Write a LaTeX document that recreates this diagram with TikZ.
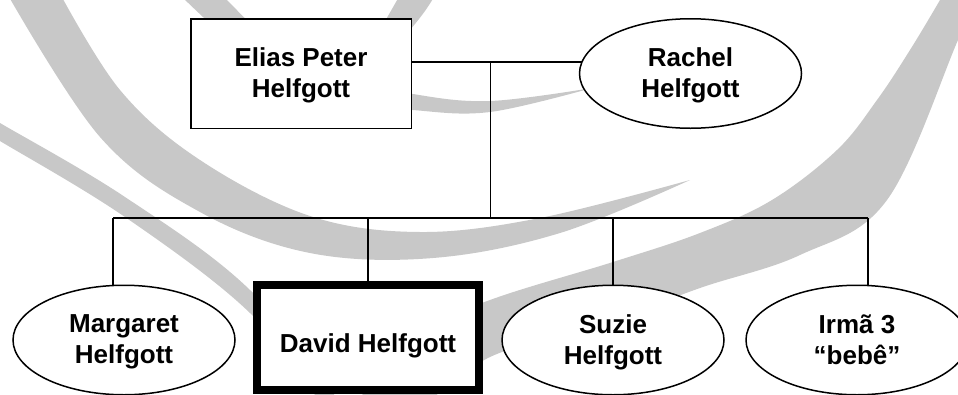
\documentclass[tikz,border=0pt]{standalone}
\usepackage{fontspec}
\setmainfont{Liberation Sans}
\usetikzlibrary{shapes.geometric,backgrounds}
\definecolor{wm}{RGB}{200,200,200}
\begin{document}
\begin{tikzpicture}[x=1pt,y=-1pt,
  person/.style={draw, line width=1.5pt, fill=white, inner sep=0pt,
    font=\fontsize{26}{31}\selectfont\bfseries, align=center, text depth=1.5pt},
  malebox/.style={person, rectangle, minimum width=220.5pt, minimum height=109.5pt},
  femell/.style={person, ellipse, minimum width=222pt, minimum height=109.5pt},
  davidbox/.style={person, rectangle, line width=8pt, minimum width=222pt,
    minimum height=105pt, text height=29pt, text depth=0pt},
  link/.style={line width=1.5pt},
  wmark/.style={fill=wm, draw=none}]
\useasboundingbox (0,0) rectangle (958,394);

% nodes
\node[malebox] (elias)  at (301,73.5)  {Elias Peter\\Helfgott};
\node[femell]  (rachel) at (690.5,73.5) {Rachel\\Helfgott};
\node[femell]  (marg)   at (124,340)   {Margaret\\Helfgott};
\node[davidbox] (david) at (368,337.5) {David Helfgott};
\node[femell]  (suzie)  at (613,340)   {Suzie\\Helfgott};
\node[femell]  (irma)   at (857,340)   {Irmã 3\\“bebê”};

\begin{pgfonlayer}{background}
\fill[white] (0,0) rectangle (958,394);
% watermark swirl
\fill[wmark] plot[smooth, tension=0.6] coordinates {(-10,117) (0,123) (125,197) (250,290) (345,410)}
  -- plot[smooth, tension=0.6] coordinates {(325,410) (250,313) (125,217) (0,141) (-10,135)} -- cycle;
\fill[wmark] plot[smooth, tension=0.6] coordinates {(945,-10) (940,0) (910,50) (877,100) (837,150) (772,200) (700,233) (613,262) (490,300) (400,340) (360,400)}
  -- plot[smooth, tension=0.6] coordinates {(420,410) (490,357) (600,325) (700,288) (800,255) (887,200) (958,40) (980,-10)} -- cycle;
\fill[wmark] plot[smooth, tension=0.6] coordinates {(58,-10) (120,90) (200,160) (310,216) (420,232) (540,218) (690,180)}
  -- plot[smooth, tension=0.6] coordinates {(690,180) (560,233) (433,258) (310,253) (200,212) (100,137) (5,-10)} -- cycle;
\fill[wmark] plot[smooth, tension=0.6] coordinates {(180,-5) (203,17) (260,70) (340,100) (413,110) (490,112) (592,88)}
  -- plot[smooth, tension=0.6] coordinates {(592,88) (490,101) (413,94) (330,75) (270,40) (227,0) (225,-5)} -- cycle;
\fill[wmark] (400,-5) -- (435,-5) .. controls (428,8) and (420,18) .. (410,30) -- (380,30) -- cycle;

% connectors
\coordinate (mj) at (490.7,62);
\coordinate (bar) at (490.7,218);
\coordinate (dm) at (113,218);
\coordinate (dd) at (368,218);
\coordinate (ds) at (613,218);
\coordinate (di) at (868,218);
\draw[link] (elias.east |- mj) -- (mj -| rachel.center);
\draw[link] (mj) -- (bar);
\draw[link] (dm) -- (di);
\draw[link] (dm) -- (dm |- marg.center);
\draw[link] (dd) -- (david.center);
\draw[link] (ds) -- (suzie.center);
\draw[link] (di) -- (di |- irma.center);
\end{pgfonlayer}
\end{tikzpicture}
\end{document}
